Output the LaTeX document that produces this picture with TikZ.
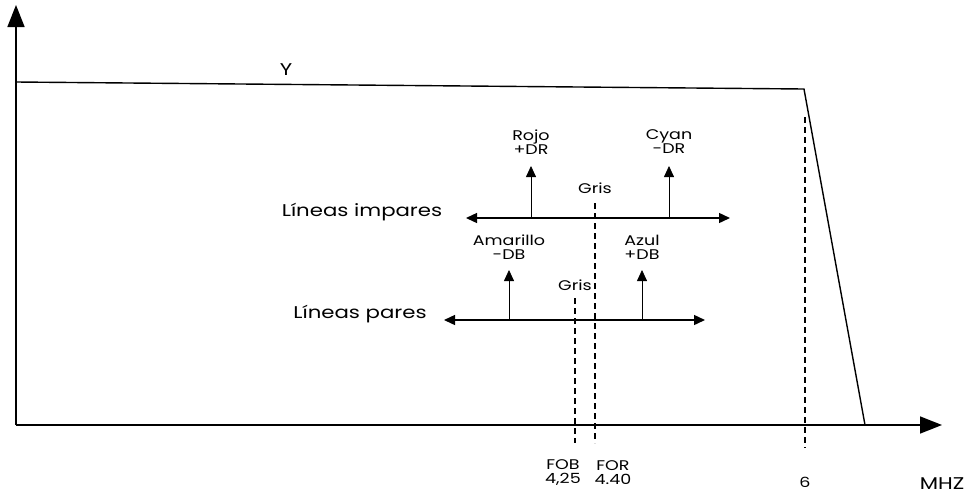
\documentclass[tikz,border=0pt]{standalone}
\usepackage{fontspec}
\setmainfont{Poppins}[FakeStretch=1.25]
\usetikzlibrary{arrows.meta}
\begin{document}
\begin{tikzpicture}[x=1pt,y=-1pt,
  axis/.style={line width=1.6pt,-{Triangle[length=22pt,width=17pt]}},
  curve/.style={line width=1.4pt},
  harrow/.style={line width=1.4pt,{Triangle[length=11pt,width=10pt]}-{Triangle[length=11pt,width=10pt]}},
  varrow/.style={line width=0.8pt,-{Triangle[length=11pt,width=10pt]}},
  guide/.style={line width=1.3pt,dash pattern=on 6pt off 4pt},
  lbl/.style={font=\fontsize{14}{14}\selectfont,align=center,inner sep=0pt},
  big/.style={font=\fontsize{17}{17}\selectfont,inner sep=0pt}]
\useasboundingbox (0,0) rectangle (975,499);
% axes
\coordinate (O) at (16,425);
\coordinate (ytip) at (16,5);
\coordinate (xtip) at (942,425);
\draw[axis] (O) -- (ytip);
\draw[axis] (O) -- (xtip);
% Y response
\coordinate (yl) at (16,82);
\coordinate (yr) at (804,89);
\coordinate (yb) at (865,425);
\draw[curve] (yl) -- (yr) -- (yb);
\node[big] (ylab) at (286,70) {Y};
% guides
\coordinate (g6t) at (805,117);
\coordinate (g6b) at (805,448);
\draw[guide] (g6t) -- (g6b);
\coordinate (fobt) at (575,298);
\coordinate (fobb) at (575,443);
\draw[guide] (fobt) -- (fobb);
\coordinate (fort) at (595,203);
\coordinate (forb) at (595,443);
\draw[guide] (fort) -- (forb);
% odd lines
\coordinate (ol) at (466,218);
\coordinate (or) at (730,218);
\draw[harrow] (ol) -- (or);
\coordinate (rojob) at (531,218);
\coordinate (rojot) at (531,166);
\draw[varrow] (rojob) -- (rojot);
\coordinate (cyanb) at (669,218);
\coordinate (cyant) at (669,166);
\draw[varrow] (cyanb) -- (cyant);
\node[lbl] (rojo) at (531,142) {Rojo\\+DR};
\node[lbl] (cyan) at (669,142) {Cyan\\-DR};
\node[lbl] (gris1) at (595,188) {Gris};
\node[big] (impares) at (362,212) {Líneas impares};
% even lines
\coordinate (el) at (444,320);
\coordinate (er) at (705,320);
\draw[harrow] (el) -- (er);
\coordinate (amab) at (509,320);
\coordinate (amat) at (509,270);
\draw[varrow] (amab) -- (amat);
\coordinate (azub) at (642,320);
\coordinate (azut) at (642,270);
\draw[varrow] (azub) -- (azut);
\node[lbl] (amarillo) at (509,247) {Amarillo\\-DB};
\node[lbl] (azul) at (642,247) {Azul\\+DB};
\node[lbl] (gris2) at (575,285) {Gris};
\node[big] (pares) at (360,314) {Líneas pares};
% x labels
\node[lbl] (fob) at (563,473) {FOB\\4,25};
\node[lbl] (for) at (613,473) {FOR\\4.40};
\node[lbl] (six) at (805,482) {6};
\node[big] (mhz) at (942,484) {MHZ};
\end{tikzpicture}
\end{document}
